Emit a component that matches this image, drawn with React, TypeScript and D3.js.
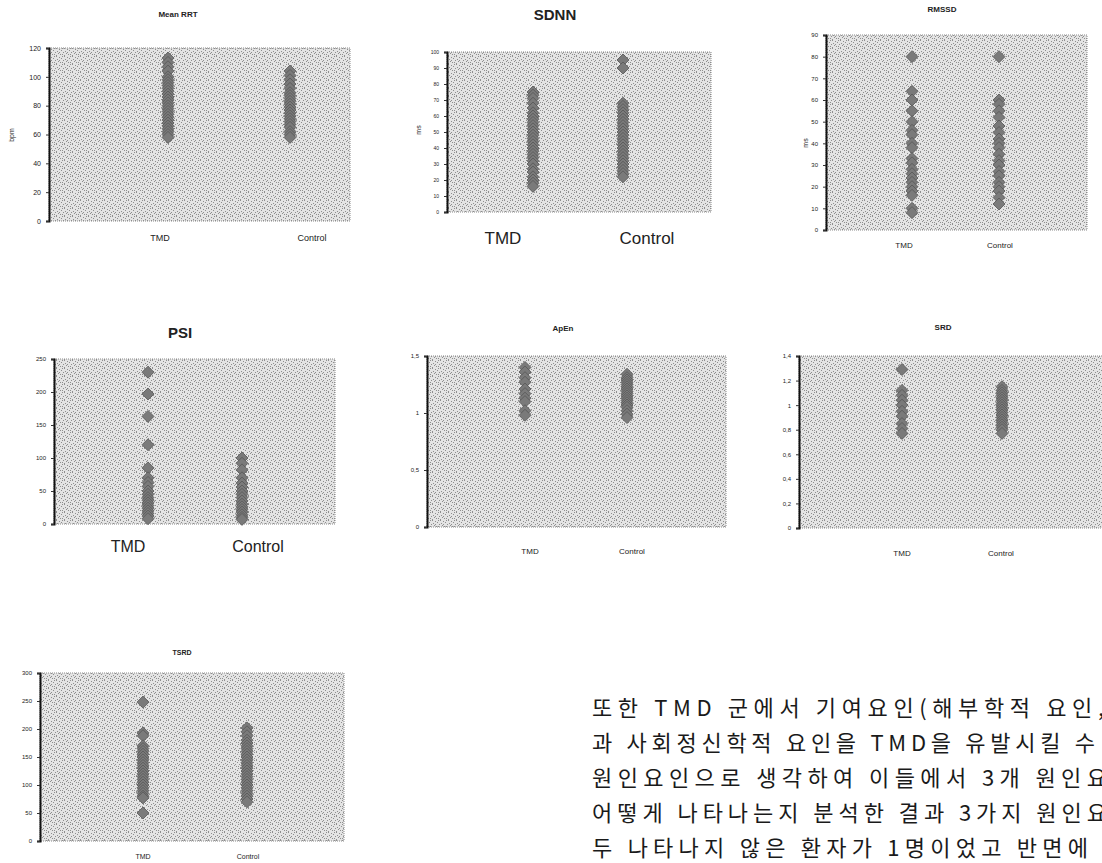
import React, {useEffect, useRef} from 'react';
import * as d3 from 'd3';

// categories
const groups = ['TMD', 'Control'];

// values
const meanRrtTmd = [113, 110, 107, 104, 100, 98, 96, 94, 92, 90, 88, 86, 84, 82, 80, 78, 76, 74, 72, 70, 68, 66, 64, 62, 60, 58];
const meanRrtControl = [104, 101, 98, 95, 92, 89, 87, 85, 83, 81, 79, 77, 75, 73, 71, 69, 67, 65, 62, 60, 58];

const sdnnTmd = [75, 73, 71, 68, 65, 62, 60, 58, 56, 54, 52, 50, 48, 46, 44, 42, 40, 38, 36, 34, 32, 30, 27, 25, 22, 20, 18, 16];
const sdnnControl = [95, 90, 68, 66, 64, 62, 60, 58, 56, 54, 52, 50, 48, 46, 44, 42, 40, 38, 36, 34, 32, 30, 28, 26, 24, 22];

const rmssdTmd = [80, 64, 60, 55, 50, 46, 44, 40, 38, 33, 31, 28, 26, 24, 22, 20, 18, 16, 10, 8];
const rmssdControl = [80, 60, 58, 55, 52, 48, 45, 42, 40, 38, 35, 32, 30, 27, 25, 22, 20, 18, 15, 12];

const psiTmd = [230, 197, 163, 120, 85, 70, 63, 57, 50, 45, 40, 36, 32, 28, 24, 20, 16, 12, 8];
const psiControl = [100, 92, 82, 70, 62, 56, 50, 45, 40, 35, 30, 26, 22, 18, 14, 10, 7];

const apenTmd = [1.4, 1.36, 1.31, 1.27, 1.21, 1.17, 1.13, 1.1, 1.02, 0.98];
const apenControl = [1.34, 1.31, 1.29, 1.27, 1.25, 1.23, 1.21, 1.19, 1.17, 1.15, 1.13, 1.11, 1.09, 1.07, 1.05, 1.02, 0.99, 0.96];

const srdTmd = [1.29, 1.12, 1.08, 1.04, 1.0, 0.95, 0.91, 0.85, 0.81, 0.77];
const srdControl = [1.15, 1.12, 1.1, 1.08, 1.06, 1.04, 1.02, 1.0, 0.98, 0.96, 0.94, 0.92, 0.9, 0.88, 0.86, 0.84, 0.82, 0.8, 0.77];

const tsrdTmd = [248, 193, 188, 170, 165, 160, 155, 150, 145, 140, 135, 130, 125, 120, 115, 110, 105, 100, 95, 90, 85, 80, 77, 50];
const tsrdControl = [202, 195, 188, 180, 175, 170, 165, 160, 155, 150, 145, 140, 135, 130, 125, 120, 115, 110, 105, 100, 95, 90, 85, 80, 75, 70];

// paragraph beside the last chart (cut by the page edge)
const textLines = [
  '또한 TMD 군에서 기여요인(해부학적 요인,',
  '과 사회정신학적 요인을 TMD을 유발시킬 수',
  '원인요인으로 생각하여 이들에서 3개 원인요',
  '어떻게 나타나는지 분석한 결과 3가지 원인요',
  '두 나타나지 않은 환자가 1명이었고 반면에',
];
const textWidths = [512, 503, 515, 515, 496];

const comma = (d: number) => String(d).replace('.', ',');

// layout of each small chart (frame, marker columns, label columns, fonts)
const panels = [
  {title: 'Mean RRT', tmd: meanRrtTmd, control: meanRrtControl, max: 120, step: 20, fmt: String,
    x0: 49, y0: 48, x1: 350, y1: 221, mx: [168, 290], lx: [160, 312], ly: 241, lSize: 9,
    tx: 178, ty: 17, tSize: 8, tickSize: 7, ylabel: 'bpm', ylx: 14, yly: 135},
  {title: 'SDNN', tmd: sdnnTmd, control: sdnnControl, max: 100, step: 10, fmt: String,
    x0: 447, y0: 52, x1: 711, y1: 212, mx: [533, 623], lx: [503, 647], ly: 244, lSize: 17,
    tx: 555, ty: 20, tSize: 15, tickSize: 5, ylabel: 'ms', ylx: 421, yly: 130},
  {title: 'RMSSD', tmd: rmssdTmd, control: rmssdControl, max: 90, step: 10, fmt: String,
    x0: 826, y0: 35, x1: 1087, y1: 230, mx: [912, 999], lx: [904, 1000], ly: 248, lSize: 8,
    tx: 942, ty: 12, tSize: 8, tickSize: 6, ylabel: 'ms', ylx: 808, yly: 143},
  {title: 'PSI', tmd: psiTmd, control: psiControl, max: 250, step: 50, fmt: String,
    x0: 54, y0: 359, x1: 335, y1: 524, mx: [148, 242], lx: [128, 258], ly: 552, lSize: 16,
    tx: 180, ty: 338, tSize: 15, tickSize: 6, ylabel: '', ylx: 0, yly: 0},
  {title: 'ApEn', tmd: apenTmd, control: apenControl, max: 1.5, step: 0.5, fmt: comma,
    x0: 427, y0: 356, x1: 726, y1: 527, mx: [525, 627], lx: [530, 632], ly: 554, lSize: 8,
    tx: 563, ty: 331, tSize: 8, tickSize: 6, ylabel: '', ylx: 0, yly: 0},
  {title: 'SRD', tmd: srdTmd, control: srdControl, max: 1.4, step: 0.2, fmt: comma,
    x0: 799, y0: 356, x1: 1104, y1: 528, mx: [902, 1002], lx: [902, 1001], ly: 556, lSize: 8,
    tx: 943, ty: 330, tSize: 8, tickSize: 6, ylabel: '', ylx: 0, yly: 0},
  {title: 'TSRD', tmd: tsrdTmd, control: tsrdControl, max: 300, step: 50, fmt: String,
    x0: 40, y0: 673, x1: 344, y1: 841, mx: [143, 247], lx: [143, 248], ly: 859, lSize: 7,
    tx: 182, ty: 655, tSize: 7, tickSize: 6, ylabel: '', ylx: 0, yly: 0},
];

// scattered dots of the scanned stipple, one 8x8 tile
const stippleDots = [[0, 0], [3, 1], [6, 0], [1, 3], [5, 2], [7, 4], [2, 5], [4, 6], [0, 7], [6, 6], [3, 4]];

const App: React.FC = () => {
  const svgRef = useRef<SVGSVGElement>(null);

  useEffect(() => {
    const svg = d3.select(svgRef.current);
    svg.selectAll('*').remove();

    // stippled grey fill used by every plot area
    const pat = svg
      .append('defs')
      .append('pattern')
      .attr('id', 'stipple')
      .attr('width', 8)
      .attr('height', 8)
      .attr('patternUnits', 'userSpaceOnUse');
    pat.append('rect').attr('width', 8).attr('height', 8).attr('fill', '#e4e4e4');
    stippleDots.forEach(([px, py]) => {
      pat.append('rect').attr('x', px).attr('y', py).attr('width', 1).attr('height', 1).attr('fill', '#8e8e8e');
    });

    panels.forEach((p) => {
      const y = d3.scaleLinear().domain([0, p.max]).range([p.y1, p.y0]);
      const x = d3.scalePoint<string>().domain(groups).range(p.mx as [number, number]);
      const xl = d3.scalePoint<string>().domain(groups).range(p.lx as [number, number]);
      const g = svg.append('g');

      g.append('rect')
        .attr('x', p.x0)
        .attr('y', p.y0)
        .attr('width', p.x1 - p.x0)
        .attr('height', p.y1 - p.y0)
        .attr('fill', 'url(#stipple)')
        .attr('stroke', '#8a8a8a')
        .attr('stroke-dasharray', '1,1')
        .attr('stroke-width', 1);

      // y axis
      const ticks = d3.range(0, p.max + p.step / 2, p.step).map((v) => +v.toFixed(2));
      const axis = g
        .append('g')
        .attr('transform', `translate(${p.x0},0)`)
        .call(d3.axisLeft(y).tickValues(ticks).tickSize(3).tickFormat((d: any) => p.fmt(d)));
      axis.select('.domain').attr('stroke', '#111').attr('stroke-width', 2);
      axis.selectAll('.tick line').attr('stroke', '#333');
      axis
        .selectAll('.tick text')
        .attr('font-size', p.tickSize)
        .attr('font-family', 'Liberation Sans, Arial, sans-serif')
        .attr('fill', '#222')
        .attr('x', -8);

      // diamonds
      const pts = [
        ...p.tmd.map((v) => ({grp: 'TMD', v})),
        ...p.control.map((v) => ({grp: 'Control', v})),
      ];
      g.selectAll('.pt')
        .data(pts)
        .enter()
        .append('path')
        .attr('class', 'pt')
        .attr('d', 'M0,-6L6,0L0,6L-6,0Z')
        .attr('transform', (d) => `translate(${x(d.grp)},${y(d.v)})`)
        .attr('fill', '#7a7a7a')
        .attr('stroke', '#555')
        .attr('stroke-width', 0.8);

      // category labels
      g.selectAll('.cat')
        .data(groups)
        .enter()
        .append('text')
        .attr('x', (d) => xl(d))
        .attr('y', p.ly)
        .attr('text-anchor', 'middle')
        .attr('font-size', p.lSize)
        .attr('font-family', 'Liberation Sans, Arial, sans-serif')
        .attr('fill', '#222')
        .text((d) => d);

      // title
      g.append('text')
        .attr('x', p.tx)
        .attr('y', p.ty)
        .attr('text-anchor', 'middle')
        .attr('font-size', p.tSize)
        .attr('font-weight', 'bold')
        .attr('font-family', 'Liberation Sans, Arial, sans-serif')
        .attr('fill', '#222')
        .text(p.title);

      if (p.ylabel) {
        g.append('text')
          .attr('transform', `translate(${p.ylx},${p.yly}) rotate(-90)`)
          .attr('text-anchor', 'middle')
          .attr('font-size', 7)
          .attr('font-family', 'Liberation Sans, Arial, sans-serif')
          .attr('fill', '#222')
          .text(p.ylabel);
      }
    });

    // Korean paragraph, justified like the scanned page
    svg
      .selectAll('.para')
      .data(textLines)
      .enter()
      .append('text')
      .attr('class', 'para')
      .attr('x', 592)
      .attr('y', (d, i) => 716 + i * 35)
      .attr('font-size', 22)
      .attr('textLength', (d, i) => textWidths[i])
      .attr('lengthAdjust', 'spacing')
      .attr('font-family', 'Noto Sans CJK KR, sans-serif')
      .attr('fill', '#1a1a1a')
      .text((d) => d);
  }, []);

  return (
    <svg
      ref={svgRef}
      width={1102}
      height={863}
      style={{position: 'absolute', left: 0, top: 0, background: '#fff'}}
    />
  );
};

export default App;
